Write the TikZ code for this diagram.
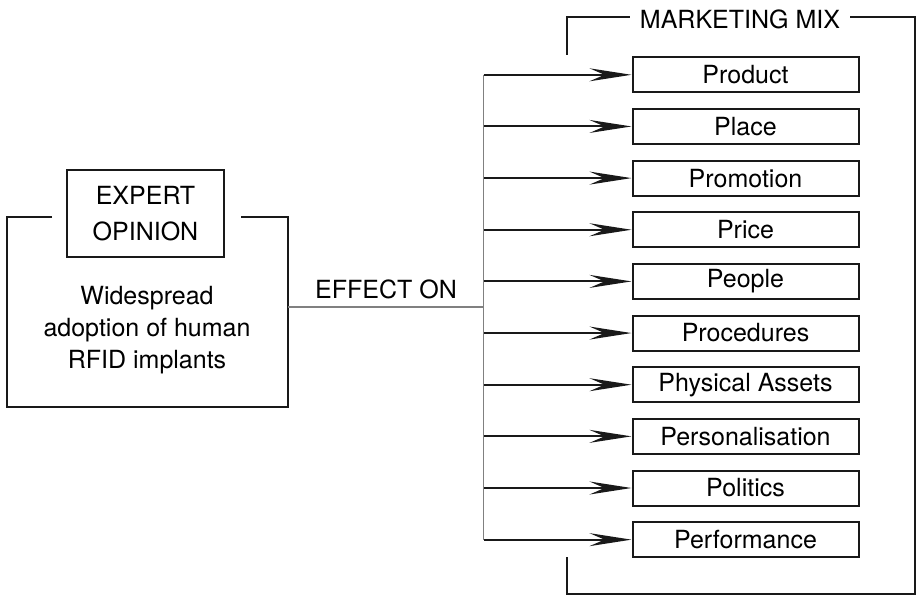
\documentclass[tikz,border=0pt]{standalone}
\usepackage{fontspec}
\setmainfont{TeX Gyre Heros}
\usetikzlibrary{arrows.meta}
\begin{document}
\begin{tikzpicture}[x=1pt,y=-1pt,
  every node/.style={font=\fontsize{25}{32}\selectfont, inner sep=0pt},
  frame/.style={line width=2pt, black!90},
  mixbox/.style={draw, line width=2pt, black!90, text=black,
    minimum width=226pt, minimum height=35pt},
  expertbox/.style={draw, line width=2pt, black!90, text=black,
    minimum width=157pt, minimum height=87pt, align=center,
    font=\fontsize{25}{36}\selectfont},
  busline/.style={line width=1.2pt, black!50},
  arr/.style={line width=2pt, black!90,
    -{Stealth[length=42pt, width=13pt, inset=15pt]}}]
\useasboundingbox (0,0) rectangle (917,596);

% left frame with the expert opinion box in its top edge
\draw[frame] (52,217) -| (7,407) -| (288,217) -- (241,217);
\node[expertbox] (expert) at (145.5,213.5) {EXPERT\\OPINION};
\node[align=center] (topic) at (147,330) {Widespread\\adoption of human\\RFID implants};
\coordinate (src) at (288,307);

% right frame around the marketing mix
\node (mixtitle) at (740,19) {MARKETING MIX};
\draw[frame] (567,55) |- (630,17);
\draw[frame] (850,17) -| (915,594) -| (567,557);

% elements of the marketing mix, fed from one vertical bus
\coordinate (bus) at (483.5,307);
\foreach \t [count=\i] in {Product, Place, Promotion, Price, People,
    Procedures, Physical Assets, Personalisation, Politics, Performance} {
  \node[mixbox] (m\i) at (745.5,{74.8+(\i-1)*51.65}) {\t};
  \draw[arr] (bus |- m\i.west) -- (m\i.west);
}
\draw[busline] (bus |- m1.west) -- (bus |- m10.west);

% link from the topic to the bus
\draw[busline] (src) -- (bus);
\node[anchor=base] (effect) at (386,298) {EFFECT ON};
\end{tikzpicture}
\end{document}
